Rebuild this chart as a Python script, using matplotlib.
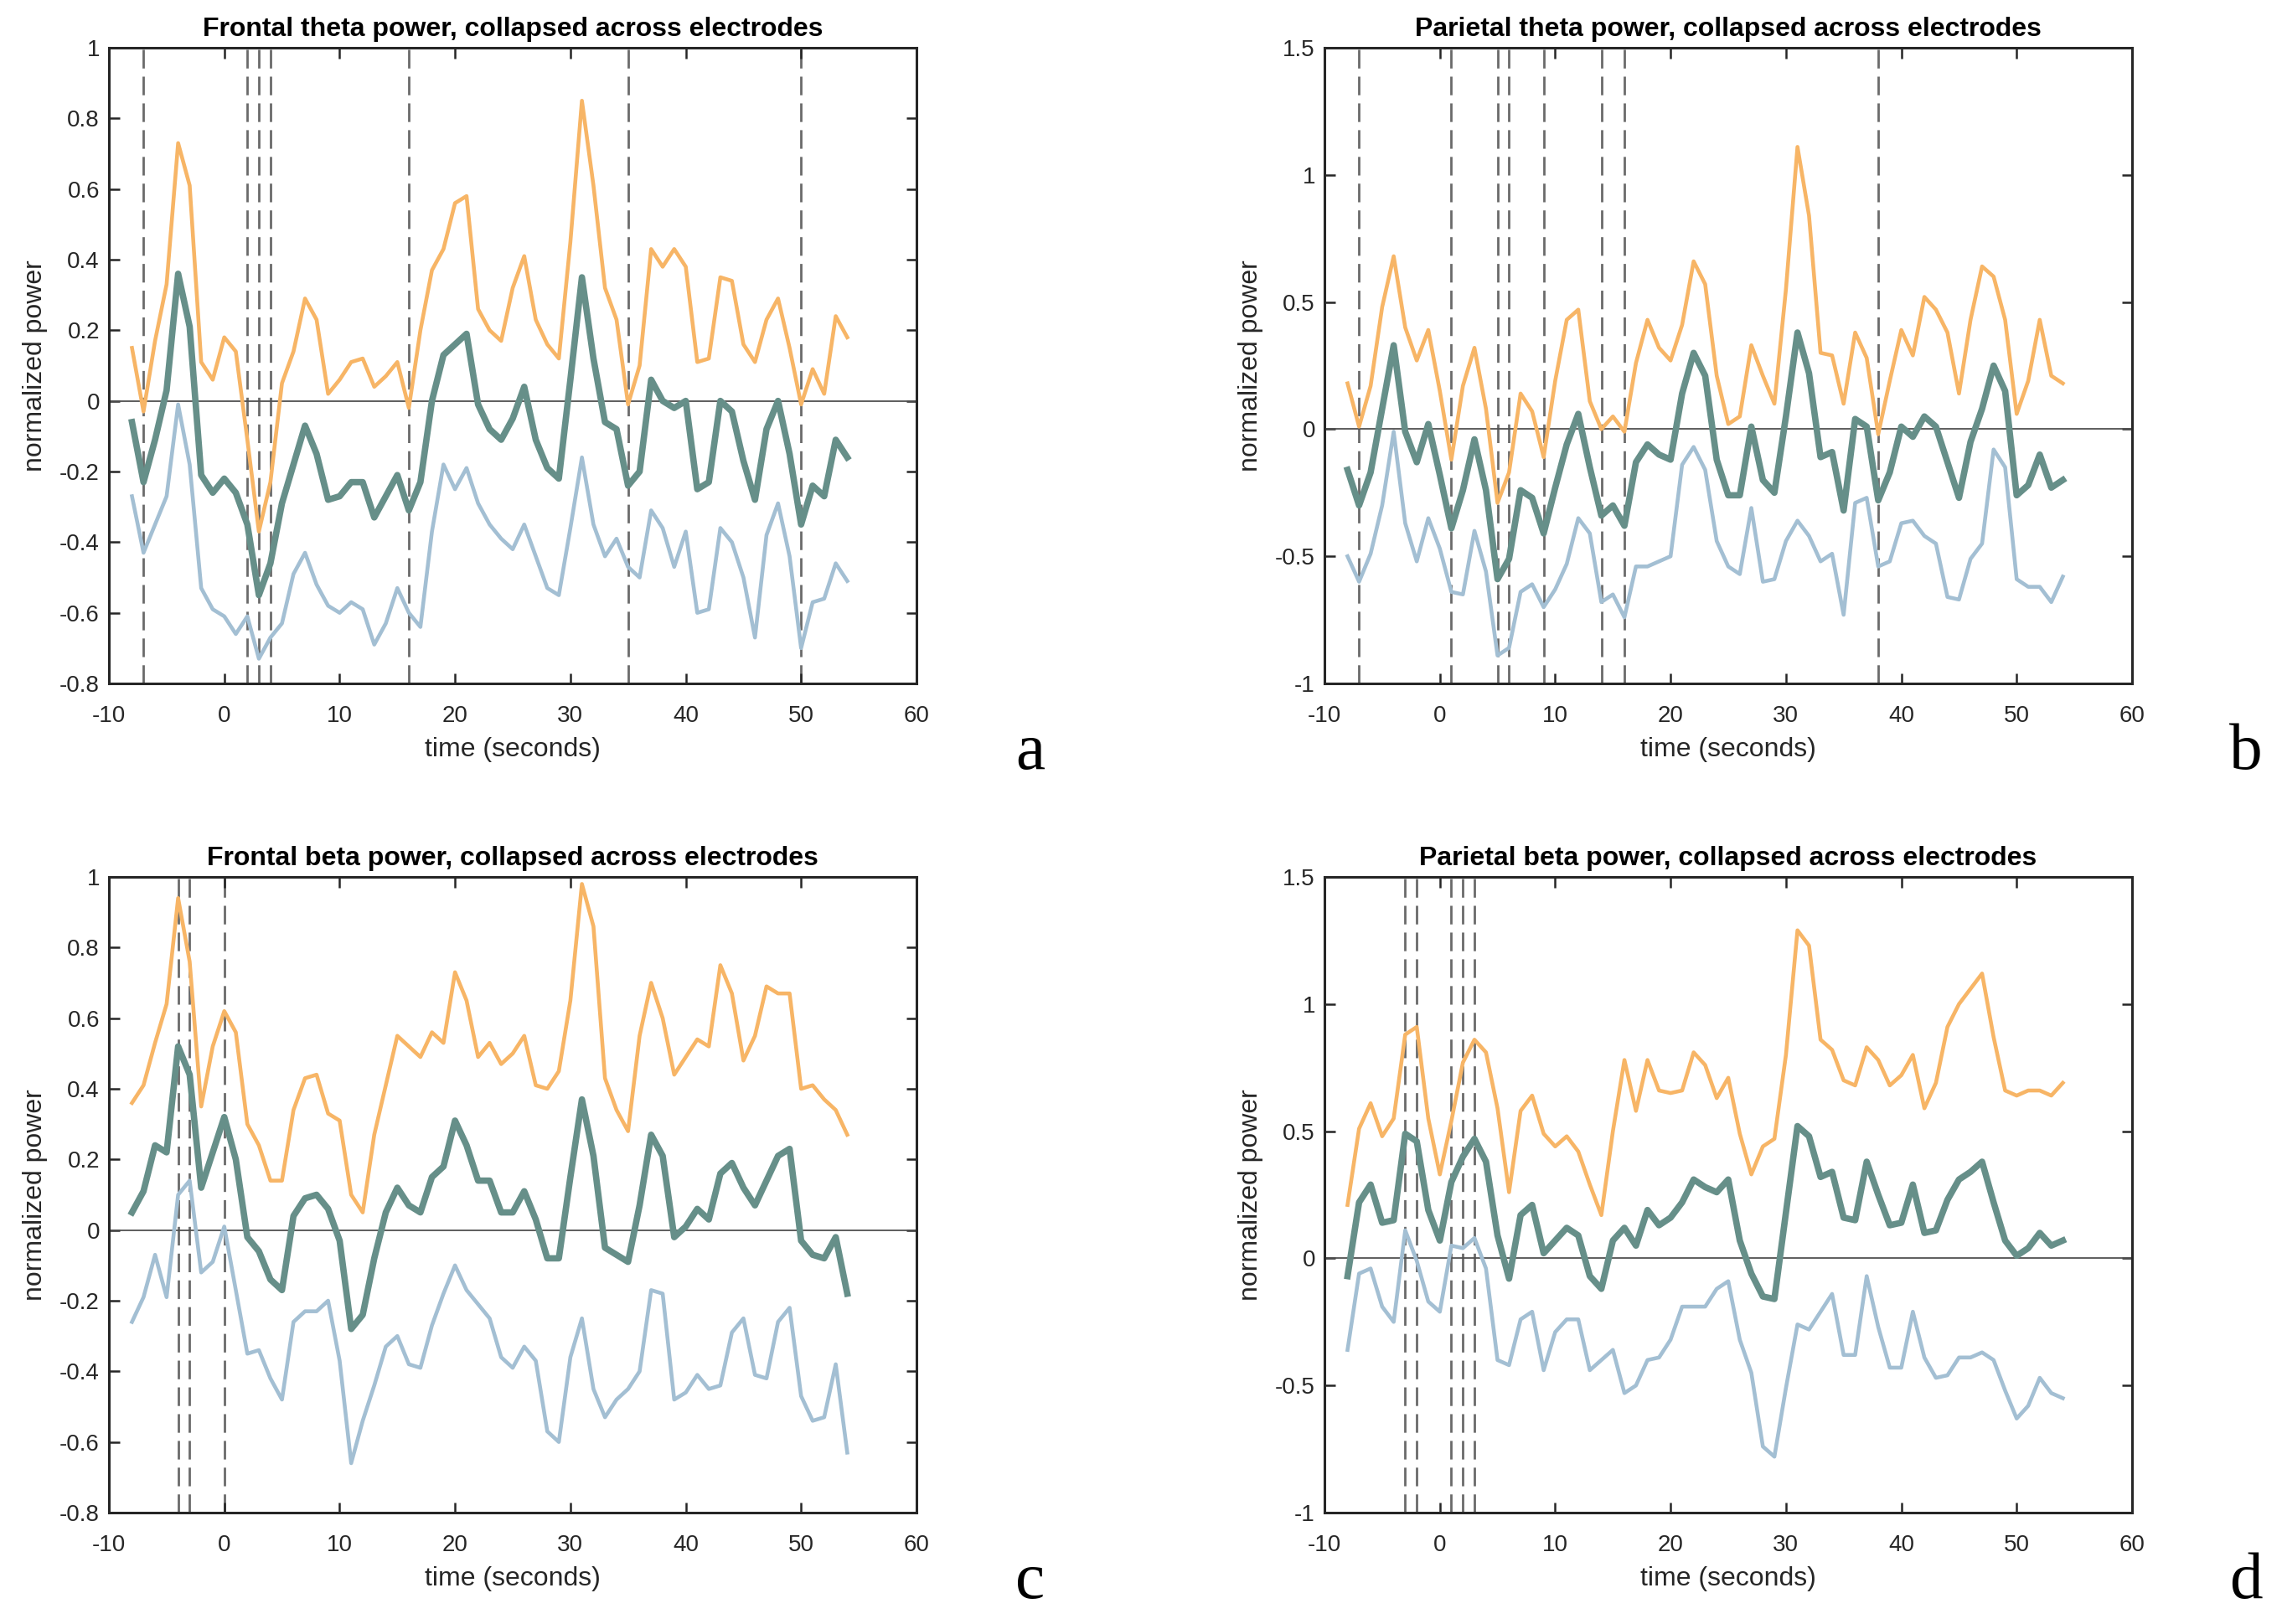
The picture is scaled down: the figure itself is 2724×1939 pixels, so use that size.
import numpy as np
import matplotlib
matplotlib.use('Agg')
import matplotlib.pyplot as plt
from matplotlib.ticker import FormatStrFormatter

plt.rcParams['font.family'] = ['Liberation Sans', 'DejaVu Sans']
plt.rcParams['axes.unicode_minus'] = False

time_s = list(range(-8, 55))

# frontal theta
frontal_theta_hi = [0.15, -0.03, 0.17, 0.33, 0.73, 0.61, 0.11, 0.06, 0.18, 0.14, -0.11, -0.37, -0.23, 0.05, 0.14, 0.29,
                    0.23, 0.02, 0.06, 0.11, 0.12, 0.04, 0.07, 0.11, -0.02, 0.20, 0.37, 0.43, 0.56, 0.58, 0.26, 0.20,
                    0.17, 0.32, 0.41, 0.23, 0.16, 0.12, 0.45, 0.85, 0.61, 0.32, 0.23, -0.01, 0.10, 0.43, 0.38, 0.43,
                    0.38, 0.11, 0.12, 0.35, 0.34, 0.16, 0.11, 0.23, 0.29, 0.15, -0.01, 0.09, 0.02, 0.24, 0.18]
frontal_theta_mean = [-0.06, -0.23, -0.11, 0.03, 0.36, 0.21, -0.21, -0.26, -0.22, -0.26, -0.35, -0.55, -0.46, -0.29,
                      -0.18, -0.07, -0.15, -0.28, -0.27, -0.23, -0.23, -0.33, -0.27, -0.21, -0.31, -0.23, 0.00, 0.13,
                      0.16, 0.19, -0.01, -0.08, -0.11, -0.05, 0.04, -0.11, -0.19, -0.22, 0.06, 0.35, 0.12, -0.06,
                      -0.08, -0.24, -0.20, 0.06, 0.00, -0.02, 0.00, -0.25, -0.23, 0.00, -0.03, -0.17, -0.28, -0.08,
                      0.00, -0.15, -0.35, -0.24, -0.27, -0.11, -0.16]
frontal_theta_lo = [-0.27, -0.43, -0.35, -0.27, -0.01, -0.18, -0.53, -0.59, -0.61, -0.66, -0.61, -0.73, -0.67, -0.63,
                    -0.49, -0.43, -0.52, -0.58, -0.60, -0.57, -0.59, -0.69, -0.63, -0.53, -0.60, -0.64, -0.37, -0.18,
                    -0.25, -0.19, -0.29, -0.35, -0.39, -0.42, -0.35, -0.44, -0.53, -0.55, -0.36, -0.16, -0.35, -0.44,
                    -0.39, -0.47, -0.50, -0.31, -0.36, -0.47, -0.37, -0.60, -0.59, -0.36, -0.40, -0.50, -0.67, -0.38,
                    -0.29, -0.44, -0.70, -0.57, -0.56, -0.46, -0.51]
frontal_theta_sig = [-7, 2, 3, 4, 16, 35, 50]

# parietal theta
parietal_theta_hi = [0.18, 0.01, 0.17, 0.48, 0.68, 0.40, 0.27, 0.39, 0.15, -0.12, 0.17, 0.32, 0.08, -0.29, -0.17, 0.14,
                     0.07, -0.11, 0.19, 0.43, 0.47, 0.11, 0.00, 0.05, -0.01, 0.26, 0.43, 0.32, 0.27, 0.41, 0.66, 0.57,
                     0.21, 0.02, 0.05, 0.33, 0.21, 0.10, 0.55, 1.11, 0.84, 0.30, 0.29, 0.10, 0.38, 0.28, -0.02, 0.19,
                     0.39, 0.29, 0.52, 0.47, 0.38, 0.14, 0.43, 0.64, 0.60, 0.43, 0.06, 0.19, 0.43, 0.21, 0.18]
parietal_theta_mean = [-0.16, -0.30, -0.17, 0.08, 0.33, -0.01, -0.13, 0.02, -0.18, -0.39, -0.24, -0.04, -0.24, -0.59,
                       -0.51, -0.24, -0.27, -0.41, -0.23, -0.06, 0.06, -0.15, -0.34, -0.30, -0.38, -0.13, -0.06, -0.10,
                       -0.12, 0.14, 0.30, 0.21, -0.12, -0.26, -0.26, 0.01, -0.20, -0.25, 0.05, 0.38, 0.22, -0.11,
                       -0.09, -0.32, 0.04, 0.01, -0.28, -0.17, 0.01, -0.03, 0.05, 0.01, -0.13, -0.27, -0.05, 0.08,
                       0.25, 0.15, -0.26, -0.22, -0.10, -0.23, -0.20]
parietal_theta_lo = [-0.50, -0.60, -0.49, -0.30, -0.01, -0.37, -0.52, -0.35, -0.47, -0.64, -0.65, -0.40, -0.56, -0.89,
                     -0.86, -0.64, -0.61, -0.70, -0.63, -0.53, -0.35, -0.41, -0.68, -0.65, -0.74, -0.54, -0.54, -0.52,
                     -0.50, -0.14, -0.07, -0.16, -0.44, -0.54, -0.57, -0.31, -0.60, -0.59, -0.44, -0.36, -0.42, -0.52,
                     -0.49, -0.73, -0.29, -0.27, -0.54, -0.52, -0.37, -0.36, -0.42, -0.45, -0.66, -0.67, -0.51, -0.45,
                     -0.08, -0.15, -0.59, -0.62, -0.62, -0.68, -0.58]
parietal_theta_sig = [-7, 1, 5, 6, 9, 14, 16, 38]

# frontal beta
frontal_beta_hi = [0.36, 0.41, 0.53, 0.64, 0.94, 0.76, 0.35, 0.52, 0.62, 0.56, 0.30, 0.24, 0.14, 0.14, 0.34, 0.43,
                   0.44, 0.33, 0.31, 0.10, 0.05, 0.27, 0.41, 0.55, 0.52, 0.49, 0.56, 0.53, 0.73, 0.65, 0.49, 0.53,
                   0.47, 0.50, 0.55, 0.41, 0.40, 0.45, 0.65, 0.98, 0.86, 0.43, 0.34, 0.28, 0.55, 0.70, 0.60, 0.44,
                   0.49, 0.54, 0.52, 0.75, 0.67, 0.48, 0.55, 0.69, 0.67, 0.67, 0.40, 0.41, 0.37, 0.34, 0.27]
frontal_beta_mean = [0.05, 0.11, 0.24, 0.22, 0.52, 0.44, 0.12, 0.22, 0.32, 0.20, -0.02, -0.06, -0.14, -0.17, 0.04,
                     0.09, 0.10, 0.06, -0.03, -0.28, -0.24, -0.08, 0.05, 0.12, 0.07, 0.05, 0.15, 0.18, 0.31, 0.24,
                     0.14, 0.14, 0.05, 0.05, 0.11, 0.03, -0.08, -0.08, 0.15, 0.37, 0.21, -0.05, -0.07, -0.09, 0.07,
                     0.27, 0.21, -0.02, 0.01, 0.06, 0.03, 0.16, 0.19, 0.12, 0.07, 0.14, 0.21, 0.23, -0.03, -0.07,
                     -0.08, -0.02, -0.18]
frontal_beta_lo = [-0.26, -0.19, -0.07, -0.19, 0.10, 0.14, -0.12, -0.09, 0.01, -0.17, -0.35, -0.34, -0.42, -0.48,
                   -0.26, -0.23, -0.23, -0.20, -0.37, -0.66, -0.54, -0.44, -0.33, -0.30, -0.38, -0.39, -0.27, -0.18,
                   -0.10, -0.17, -0.21, -0.25, -0.36, -0.39, -0.33, -0.37, -0.57, -0.60, -0.36, -0.25, -0.45, -0.53,
                   -0.48, -0.45, -0.40, -0.17, -0.18, -0.48, -0.46, -0.41, -0.45, -0.44, -0.29, -0.25, -0.41, -0.42,
                   -0.26, -0.22, -0.47, -0.54, -0.53, -0.38, -0.63]
frontal_beta_sig = [-4, -3, 0]

# parietal beta
parietal_beta_hi = [0.21, 0.51, 0.61, 0.48, 0.55, 0.88, 0.91, 0.55, 0.33, 0.54, 0.77, 0.86, 0.81, 0.59, 0.26, 0.58,
                    0.64, 0.49, 0.44, 0.48, 0.42, 0.29, 0.17, 0.50, 0.78, 0.58, 0.78, 0.66, 0.65, 0.66, 0.81, 0.76,
                    0.63, 0.71, 0.49, 0.33, 0.44, 0.47, 0.80, 1.29, 1.23, 0.86, 0.82, 0.70, 0.68, 0.83, 0.78, 0.68,
                    0.72, 0.80, 0.59, 0.69, 0.91, 1.00, 1.06, 1.12, 0.87, 0.66, 0.64, 0.66, 0.66, 0.64, 0.69]
parietal_beta_mean = [-0.07, 0.22, 0.29, 0.14, 0.15, 0.49, 0.46, 0.19, 0.07, 0.30, 0.40, 0.47, 0.38, 0.09, -0.08,
                      0.17, 0.21, 0.02, 0.07, 0.12, 0.09, -0.07, -0.12, 0.07, 0.12, 0.05, 0.19, 0.13, 0.16, 0.22,
                      0.31, 0.28, 0.26, 0.31, 0.07, -0.06, -0.15, -0.16, 0.18, 0.52, 0.48, 0.32, 0.34, 0.16, 0.15,
                      0.38, 0.25, 0.13, 0.14, 0.29, 0.10, 0.11, 0.23, 0.31, 0.34, 0.38, 0.22, 0.07, 0.01, 0.04,
                      0.10, 0.05, 0.07]
parietal_beta_lo = [-0.36, -0.06, -0.04, -0.19, -0.25, 0.11, -0.01, -0.17, -0.21, 0.05, 0.04, 0.08, -0.04, -0.40,
                    -0.42, -0.24, -0.21, -0.44, -0.29, -0.24, -0.24, -0.44, -0.40, -0.36, -0.53, -0.50, -0.40, -0.39,
                    -0.32, -0.19, -0.19, -0.19, -0.12, -0.09, -0.32, -0.45, -0.74, -0.78, -0.51, -0.26, -0.28, -0.21,
                    -0.14, -0.38, -0.38, -0.07, -0.27, -0.43, -0.43, -0.21, -0.39, -0.47, -0.46, -0.39, -0.39, -0.37,
                    -0.40, -0.52, -0.63, -0.58, -0.47, -0.53, -0.55]
parietal_beta_sig = [-3, -2, 1, 2, 3]

titles = ['Frontal theta power, collapsed across electrodes',
          'Parietal theta power, collapsed across electrodes',
          'Frontal beta power, collapsed across electrodes',
          'Parietal beta power, collapsed across electrodes']
panel_letters = ['a', 'b', 'c', 'd']

c_hi = '#f7b566'
c_mean = '#668f89'
c_lo = '#a3bfd3'
c_dash = '#6a6a6a'

W, H = 2724, 1939
fig = plt.figure(figsize=(W / 100, H / 100), dpi=100)

lefts = [130, 1581, 130, 1581]
tops = [57, 57, 1047, 1047]
aw, ah = 964, 759

panels = [
    (frontal_theta_hi, frontal_theta_mean, frontal_theta_lo, frontal_theta_sig, (-0.8, 1.0), np.arange(-0.8, 1.01, 0.2)),
    (parietal_theta_hi, parietal_theta_mean, parietal_theta_lo, parietal_theta_sig, (-1.0, 1.5), np.arange(-1.0, 1.51, 0.5)),
    (frontal_beta_hi, frontal_beta_mean, frontal_beta_lo, frontal_beta_sig, (-0.8, 1.0), np.arange(-0.8, 1.01, 0.2)),
    (parietal_beta_hi, parietal_beta_mean, parietal_beta_lo, parietal_beta_sig, (-1.0, 1.5), np.arange(-1.0, 1.51, 0.5)),
]

for i, (hi, mean, lo, sig, ylim, yticks) in enumerate(panels):
    ax = fig.add_axes([lefts[i] / W, 1 - (tops[i] + ah) / H, aw / W, ah / H])
    for t in sig:
        ax.axvline(t, color=c_dash, lw=2, dashes=(8, 3.5), zorder=1)
    ax.axhline(0, color='#505050', lw=1.3, zorder=2)
    ax.plot(time_s, hi, color=c_hi, lw=3.3, zorder=3)
    ax.plot(time_s, lo, color=c_lo, lw=3.3, zorder=3)
    ax.plot(time_s, mean, color=c_mean, lw=5.5, zorder=4)

    ax.set_xlim(-10, 60)
    ax.set_ylim(*ylim)
    ax.set_xticks(range(-10, 61, 10))
    ax.set_yticks(np.round(yticks, 2) + 0.0)
    ax.yaxis.set_major_formatter(FormatStrFormatter('%g'))
    ax.tick_params(direction='in', length=9, width=1.8, top=True, right=True,
                   labelsize=20, colors='#262626')
    ax.tick_params(axis='x', pad=19)
    ax.tick_params(axis='y', pad=8)
    for s in ax.spines.values():
        s.set_linewidth(2.2)
        s.set_color('#262626')

    ax.set_title(titles[i], fontsize=23, fontweight='bold', pad=10)
    ax.set_xlabel('time (seconds)', fontsize=23, color='#262626', labelpad=8)
    ax.set_ylabel('normalized power', fontsize=23, color='#262626', labelpad=10)
    ax.text(1.141, -0.11, panel_letters[i], transform=ax.transAxes, fontsize=57,
            family=['Liberation Serif', 'DejaVu Serif'], ha='center', va='center')

fig.savefig('out.png', dpi=100)
